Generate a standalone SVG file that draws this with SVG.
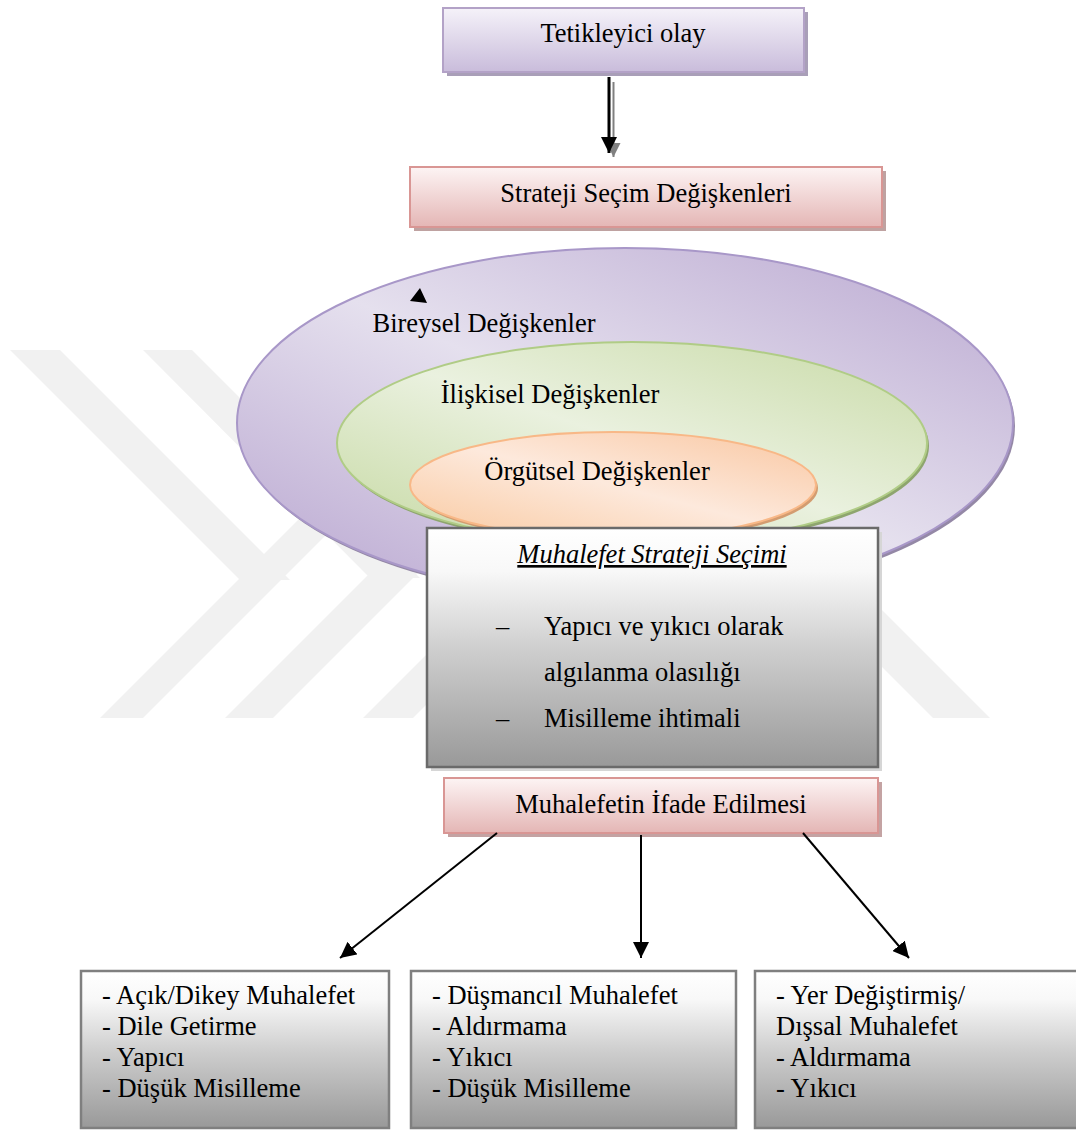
<svg xmlns="http://www.w3.org/2000/svg" width="1076" height="1130" viewBox="0 0 1076 1130">
<style>
  text { font-family: "Liberation Serif", "Times New Roman", serif; font-size: 26.5px; fill: #000; }
  .c { text-anchor: middle; }
  .wm { fill: #f1f1f1; }
  .conn { stroke: #000; stroke-width: 2; fill: none; }
</style>
<defs>
  <linearGradient id="gPurpleBox" x1="0" y1="0" x2="0" y2="1">
    <stop offset="0" stop-color="#f5f2f9"/>
    <stop offset="1" stop-color="#c9bcdb"/>
  </linearGradient>
  <linearGradient id="gPinkBox" x1="0" y1="0" x2="0" y2="1">
    <stop offset="0" stop-color="#fdf4f4"/>
    <stop offset="1" stop-color="#e4b6b5"/>
  </linearGradient>
  <linearGradient id="gGrayBox" x1="0" y1="0" x2="0" y2="1">
    <stop offset="0" stop-color="#ffffff"/>
    <stop offset="0.18" stop-color="#f8f8f8"/>
    <stop offset="0.5" stop-color="#cfcfcf"/>
    <stop offset="1" stop-color="#999999"/>
  </linearGradient>
  <linearGradient id="gPurple" x1="0" y1="1" x2="1" y2="0">
    <stop offset="0" stop-color="#b7a4cf"/>
    <stop offset="0.5" stop-color="#e5e0ee"/>
    <stop offset="1" stop-color="#b9a7d0"/>
  </linearGradient>
  <linearGradient id="gGreen" x1="0" y1="1" x2="1" y2="0">
    <stop offset="0" stop-color="#c6d9a3"/>
    <stop offset="0.5" stop-color="#eaf1df"/>
    <stop offset="1" stop-color="#c8daa6"/>
  </linearGradient>
  <linearGradient id="gOrange" x1="0" y1="1" x2="1" y2="0">
    <stop offset="0" stop-color="#f9c9a0"/>
    <stop offset="0.5" stop-color="#fde9dc"/>
    <stop offset="1" stop-color="#f9c6a0"/>
  </linearGradient>
  <marker id="ah" viewBox="0 0 16 16" refX="16" refY="8" markerWidth="16" markerHeight="16" markerUnits="userSpaceOnUse" orient="auto">
    <path d="M0,0 L16,8 L0,16 z" fill="#000"/>
  </marker>
  <marker id="ahGray" viewBox="0 0 16 16" refX="16" refY="8" markerWidth="14" markerHeight="14" markerUnits="userSpaceOnUse" orient="auto">
    <path d="M0,0 L16,8 L0,16 z" fill="#808080"/>
  </marker>
</defs>

<rect width="1076" height="1130" fill="#ffffff"/>

<!-- watermark -->
<g id="watermark">
  <polygon class="wm" points="10,350 60,350 290,580 240,580"/>
  <polygon class="wm" points="100,718 143,718 511,350 468,350"/>
  <polygon class="wm" points="143,350 192,350 420,578 370,578"/>
  <polygon class="wm" points="225,718 273,718 641,350 593,350"/>
  <polygon class="wm" points="363,718 413,718 781,350 731,350"/>
  <polygon class="wm" points="933,718 990,718 622,350 565,350"/>
</g>

<g id="n-tetikleyici">
  <rect x="447" y="12" width="361" height="64" fill="#a99fb8"/>
  <rect x="443" y="8" width="361" height="64" fill="url(#gPurpleBox)" stroke="#b3a2c7" stroke-width="2"/>
  <text class="c" x="623" y="42">Tetikleyici olay</text>
</g>

<g id="n-strateji">
  <rect x="414" y="171" width="472" height="60" fill="#bfa2a1"/>
  <rect x="410" y="167" width="472" height="60" fill="url(#gPinkBox)" stroke="#d99694" stroke-width="2"/>
  <text class="c" x="646" y="202">Strateji Seçim Değişkenleri</text>
</g>

<g id="n-bireysel">
  <ellipse cx="627" cy="426" rx="388" ry="175" fill="#9488a6"/>
  <ellipse cx="625" cy="423" rx="388" ry="175" fill="url(#gPurple)" stroke="#a897c8" stroke-width="2"/>
  <text class="c" x="484" y="332">Bireysel Değişkenler</text>
  <polygon points="420,288 410,301 427,303" fill="#000"/>
</g>

<g id="n-iliskisel">
  <ellipse cx="634" cy="446" rx="295" ry="101" fill="#8ea56e"/>
  <ellipse cx="632" cy="443" rx="295" ry="101" fill="url(#gGreen)" stroke="#b0cc86" stroke-width="2"/>
  <text class="c" x="550" y="403">İlişkisel Değişkenler</text>
</g>

<g id="n-orgutsel">
  <ellipse cx="615" cy="488" rx="203" ry="53" fill="#d39c70"/>
  <ellipse cx="613" cy="485" rx="203" ry="53" fill="url(#gOrange)" stroke="#f8b887" stroke-width="2"/>
  <text class="c" x="597" y="480">Örgütsel Değişkenler</text>
</g>

<g id="n-secim">
  <rect x="431" y="532" width="451" height="239" fill="#d6d6d6"/>
  <rect x="427" y="528" width="451" height="239" fill="url(#gGrayBox)" stroke="#6a6a6a" stroke-width="2.5"/>
  <text class="c" x="652" y="563" font-style="italic" text-decoration="underline">Muhalefet Strateji Seçimi</text>
  <text x="496" y="635">–</text>
  <text x="544" y="635">Yapıcı ve yıkıcı olarak</text>
  <text x="544" y="681">algılanma olasılığı</text>
  <text x="496" y="727">–</text>
  <text x="544" y="727">Misilleme ihtimali</text>
</g>

<g id="n-ifade">
  <rect x="448" y="782" width="434" height="55" fill="#c4a3a3"/>
  <rect x="444" y="778" width="434" height="55" fill="url(#gPinkBox)" stroke="#d99694" stroke-width="2"/>
  <text class="c" x="661" y="813">Muhalefetin İfade Edilmesi</text>
</g>

<g id="n-acik">
  <rect x="81" y="971" width="308" height="157" fill="url(#gGrayBox)" stroke="#7f7f7f" stroke-width="2.5"/>
  <text x="102" y="1004">- Açık/Dikey Muhalefet</text>
  <text x="102" y="1035">- Dile Getirme</text>
  <text x="102" y="1066">- Yapıcı</text>
  <text x="102" y="1097">- Düşük Misilleme</text>
</g>

<g id="n-dusmancil">
  <rect x="411" y="971" width="325" height="157" fill="url(#gGrayBox)" stroke="#7f7f7f" stroke-width="2.5"/>
  <text x="432" y="1004">- Düşmancıl Muhalefet</text>
  <text x="432" y="1035">- Aldırmama</text>
  <text x="432" y="1066">- Yıkıcı</text>
  <text x="432" y="1097">- Düşük Misilleme</text>
</g>

<g id="n-yer">
  <rect x="755" y="971" width="330" height="157" fill="url(#gGrayBox)" stroke="#7f7f7f" stroke-width="2.5"/>
  <text x="776" y="1004">- Yer Değiştirmiş/</text>
  <text x="776" y="1035">Dışsal Muhalefet</text>
  <text x="776" y="1066">- Aldırmama</text>
  <text x="776" y="1097">- Yıkıcı</text>
</g>

<g id="connectors">
  <line x1="613.5" y1="82" x2="613.5" y2="157" stroke="#808080" stroke-width="2" marker-end="url(#ahGray)"/>
  <line x1="609" y1="77" x2="609" y2="153" stroke="#000" stroke-width="3" marker-end="url(#ah)"/>
  <line class="conn" x1="497" y1="833" x2="340" y2="958" marker-end="url(#ah)"/>
  <line class="conn" x1="641" y1="835" x2="641" y2="958" marker-end="url(#ah)"/>
  <line class="conn" x1="803" y1="833" x2="909" y2="958" marker-end="url(#ah)"/>
</g>
</svg>
